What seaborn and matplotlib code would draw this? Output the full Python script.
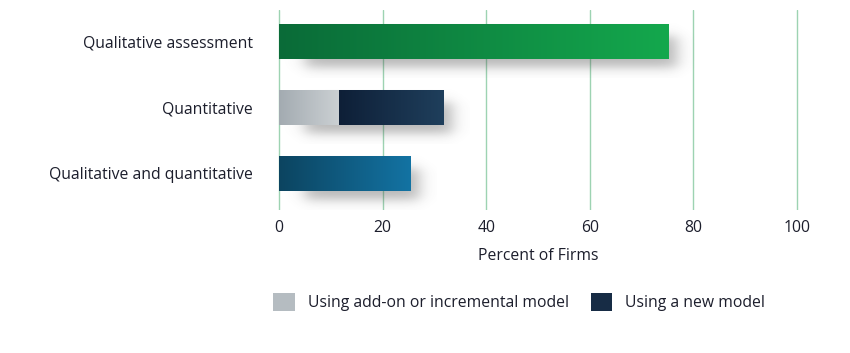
import numpy as np
import pandas as pd
import matplotlib
matplotlib.use("Agg")
import matplotlib.pyplot as plt
import seaborn as sns
from matplotlib.colors import to_rgb
from matplotlib.patches import Patch

# ---------------- data ----------------
categories = ["Qualitative assessment", "Quantitative", "Qualitative and quantitative"]
bar_totals = [75.2, 31.7, 25.4]
addon_part = [0, 11.5, 0]

legend_labels = ["Using add-on or incremental model", "Using a new model"]
xticks = [0, 20, 40, 60, 80, 100]

# ---------------- style ----------------
total_grad = [("#0a6b38", "#14a84d"), ("#0e1f37", "#1f3f5c"), ("#0c4460", "#1373a3")]
addon_grad = ("#a3abb1", "#cbd0d3")
GRID_COLOR = "#9dd3b2"
TEXT_COLOR = "#1c1e2c"
BAR_W = 0.53
FS = 11.3

sns.set_style("white")
plt.rcParams['font.family'] = ['Open Sans', 'DejaVu Sans']
plt.rcParams['font.size'] = FS
plt.rcParams['font.weight'] = 500


def gradient(ax, x0, x1, y0, y1, c_left, c_right, z=3):
    a, b = np.array(to_rgb(c_left)), np.array(to_rgb(c_right))
    t = np.linspace(0, 1, 256)[None, :, None]
    img = a + (b - a) * t
    img = np.repeat(img, 2, axis=0)
    ax.imshow(img, extent=(x0, x1, y0, y1), origin='lower', aspect='auto',
              interpolation='bilinear', zorder=z)


def shadow(ax, x0, x1, y0, y1):
    # soft grey shadow below / right of a bar
    xs = np.linspace(x0, x1 + 5, 400)
    ys = np.linspace(y0, y1 + 0.3, 120)
    sx, sy = 0.9, 0.05
    sig = lambda v: 1 / (1 + np.exp(-v))
    fx = sig((xs - (x0 + 5)) / sx) * sig(((x1 + 1.6) - xs) / sx)
    fy = sig((ys - (y0 + 0.2)) / sy) * sig(((y1 + 0.14) - ys) / sy)
    img = np.zeros((len(ys), len(xs), 4))
    img[..., :3] = 0.3
    img[..., 3] = 0.4 * np.outer(fy, fx)
    ax.imshow(img, extent=(xs[0], xs[-1], ys[0], ys[-1]), origin='lower',
              aspect='auto', interpolation='bilinear', zorder=1)


fig = plt.figure(figsize=(8.5, 3.53), dpi=100)
ax = fig.add_axes([273.8 / 850, 1 - 210 / 353, 528.4 / 850, 200 / 353])

df_tot = pd.DataFrame({"category": categories, "value": bar_totals})
df_add = pd.DataFrame({"category": categories, "value": addon_part})
sns.barplot(data=df_tot, x="value", y="category", orient="h", width=BAR_W,
            color="k", ax=ax)
n_tot = len(ax.patches)
sns.barplot(data=df_add, x="value", y="category", orient="h", width=BAR_W,
            color="k", ax=ax)

patches = list(ax.patches)
for i, p in enumerate(patches[:n_tot]):
    x0, w, y0, h = p.get_x(), p.get_width(), p.get_y(), p.get_height()
    p.set_facecolor("none")
    p.set_linewidth(0)
    shadow(ax, x0, x0 + w, y0, y0 + h)
    start = addon_part[i]
    gradient(ax, x0 + start, x0 + w, y0, y0 + h, *total_grad[i])

for i, p in enumerate(patches[n_tot:]):
    x0, w, y0, h = p.get_x(), p.get_width(), p.get_y(), p.get_height()
    p.set_facecolor("none")
    p.set_linewidth(0)
    if w > 0:
        gradient(ax, x0, x0 + w, y0, y0 + h, *addon_grad, z=4)

ax.set_xlim(-1, 101)
ax.set_ylim(2.56, -0.47)
ax.set_xticks(xticks)
ax.grid(axis="x", color=GRID_COLOR, lw=1)
ax.set_axisbelow(True)
for s in ax.spines.values():
    s.set_visible(False)
ax.tick_params(axis="both", length=0, colors=TEXT_COLOR, labelsize=FS)
ax.tick_params(axis="y", pad=15)
ax.tick_params(axis="x", pad=7)
ax.set_ylabel("")
ax.set_xlabel("Percent of Firms", color=TEXT_COLOR, fontsize=FS, labelpad=9)

handles = [Patch(facecolor="#b5bcc1", edgecolor="none"),
           Patch(facecolor="#172c45", edgecolor="none")]
fig.legend(handles, legend_labels, loc="center left",
           bbox_to_anchor=(273 / 850, 1 - 302 / 353), ncol=2, frameon=False,
           handlelength=1.4, handleheight=1.4, handletextpad=0.8,
           columnspacing=1.4, borderpad=0, borderaxespad=0,
           labelcolor=TEXT_COLOR, fontsize=FS)

fig.savefig("out.png", dpi=100)
